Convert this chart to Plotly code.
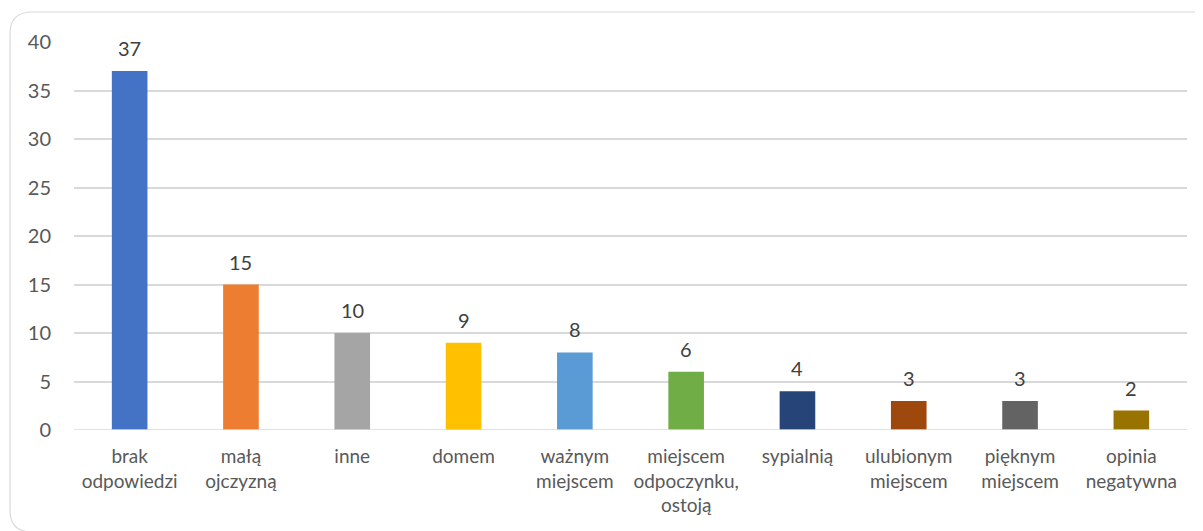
import plotly.graph_objects as go

categories = ["brak<br>odpowiedzi", "małą<br>ojczyzną", "inne", "domem", "ważnym<br>miejscem",
              "miejscem<br>odpoczynku,<br>ostoją", "sypialnią", "ulubionym<br>miejscem",
              "pięknym<br>miejscem", "opinia<br>negatywna"]
values = [37, 15, 10, 9, 8, 6, 4, 3, 3, 2]
colors = ["#4472C4", "#ED7D31", "#A5A5A5", "#FFC000", "#5B9BD5",
          "#70AD47", "#264478", "#9E480E", "#636363", "#997300"]
y_ticks = [0, 5, 10, 15, 20, 25, 30, 35, 40]

# page body has an 8px margin, so work in shifted pixel coords
OFF = 8
W, H = 1203 - OFF, 531 - OFF
L, R, T, B = 74 - OFF, 1187 - OFF, 42 - OFF, 430 - OFF  # plot area in pixels


def px(x, y):
    x -= OFF
    y -= OFF
    return (x - L) / (R - L), (B - y) / (B - T)


def rounded_rect(x0, y0, x1, y1, r):
    pts = []
    a = px(x0 + r, y0); pts.append(f"M {a[0]},{a[1]}")
    a = px(x1 - r, y0); pts.append(f"L {a[0]},{a[1]}")
    c = px(x1, y0); e = px(x1, y0 + r); pts.append(f"Q {c[0]},{c[1]} {e[0]},{e[1]}")
    a = px(x1, y1 - r); pts.append(f"L {a[0]},{a[1]}")
    c = px(x1, y1); e = px(x1 - r, y1); pts.append(f"Q {c[0]},{c[1]} {e[0]},{e[1]}")
    a = px(x0 + r, y1); pts.append(f"L {a[0]},{a[1]}")
    c = px(x0, y1); e = px(x0, y1 - r); pts.append(f"Q {c[0]},{c[1]} {e[0]},{e[1]}")
    a = px(x0, y0 + r); pts.append(f"L {a[0]},{a[1]}")
    c = px(x0, y0); e = px(x0 + r, y0); pts.append(f"Q {c[0]},{c[1]} {e[0]},{e[1]}")
    pts.append("Z")
    return " ".join(pts)


fig = go.Figure(go.Bar(
    x=categories, y=values,
    marker=dict(color=colors, line=dict(width=0)),
))

for c, v in zip(categories, values):
    fig.add_annotation(x=c, y=v, text=str(v), showarrow=False, yanchor="bottom",
                       yshift=9, font=dict(size=20, color="#404040"))

fig.update_layout(
    width=W, height=H,
    margin=dict(l=L, r=W - R, t=T, b=H - B),
    paper_bgcolor="white", plot_bgcolor="white",
    font=dict(family="Lato, Open Sans, sans-serif", color="#595959"),
    bargap=0.68,
    showlegend=False,
    xaxis=dict(showgrid=False, showline=False, ticks="", tickfont=dict(size=19),
               tickangle=0, ticklabelstandoff=13),
    yaxis=dict(range=[0, 40], tickvals=y_ticks, showgrid=True, gridcolor="#D9D9D9",
               gridwidth=1.5, zeroline=False, showline=False, tickfont=dict(size=20),
               ticklabelstandoff=22),
    shapes=[
        dict(type="line", xref="paper", yref="y", x0=0, x1=1, y0=0, y1=0,
             line=dict(color="#D9D9D9", width=1.5)),
        dict(type="path", xref="paper", yref="paper",
             path=rounded_rect(10, 12, 1216, 532, 22),
             line=dict(color="#D9D9D9", width=1.2)),
    ],
)

fig.write_html("out.html")
